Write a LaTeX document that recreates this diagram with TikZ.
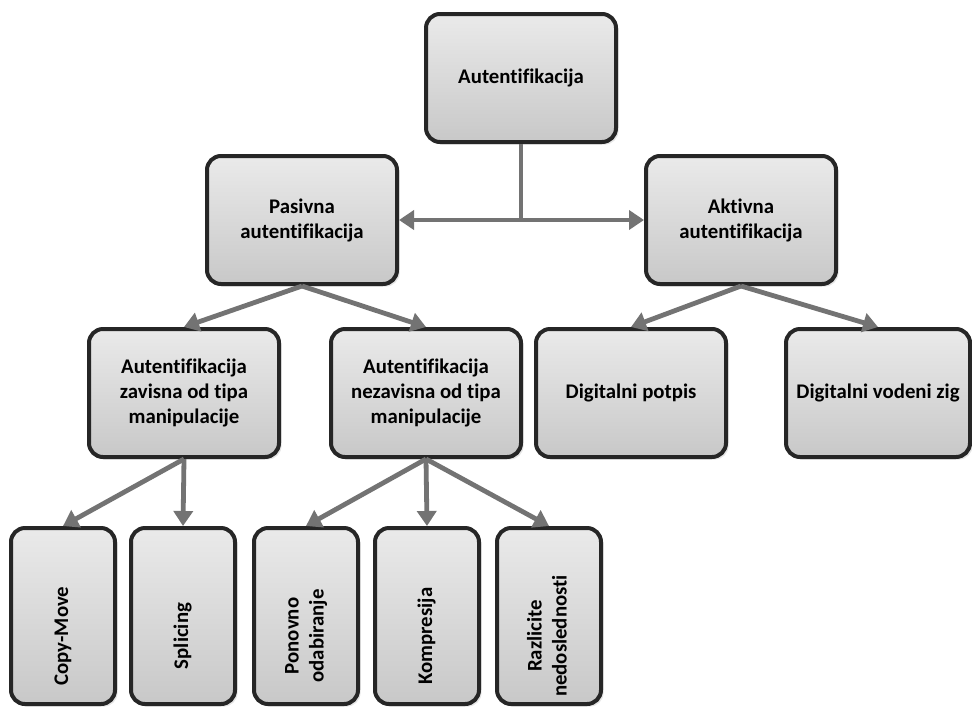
\documentclass[tikz,border=0pt]{standalone}
\usepackage{fontspec}
\setmainfont{Carlito}[Ligatures={CommonOff,RareOff}]
\usetikzlibrary{arrows.meta,shadows}

\definecolor{boxline}{HTML}{262626}
\definecolor{boxtop}{HTML}{EAEAEA}
\definecolor{boxbot}{HTML}{C8C8C8}
\definecolor{linkgray}{HTML}{737373}

% text of a rotated leaf, set a little towards the bottom of its box
\newcommand{\leaftext}[1]{\begin{tabular}{@{}c@{}}#1\end{tabular}\hspace*{20pt}}

\tikzset{
  box/.style={rectangle, rounded corners=7pt, draw=boxline, line width=2pt,
    top color=boxtop, bottom color=boxbot, minimum width=95pt, minimum height=64pt,
    align=center, font=\bfseries\fontsize{10.4}{12.5}\selectfont,
    drop shadow={shadow xshift=1.3pt, shadow yshift=-1.3pt, fill=black!20}},
  leaf/.style={box, rotate=90, minimum width=88pt, minimum height=52pt},
  link/.style={draw=linkgray, line width=2.4pt, -{Triangle[length=7.5pt,width=9.5pt]}},
}

\begin{document}
\begin{tikzpicture}[x=0.5pt, y=-0.5pt]
    \useasboundingbox (0,0) rectangle (972,707);

    \node[box] (top) at (521,78) {Autentifikacija};
    \node[box] (pas) at (302,220) {Pasivna\\autentifikacija};
    \node[box] (akt) at (741,220) {Aktivna\\autentifikacija};

    \node[box] (zav) at (184,393) {Autentifikacija\\zavisna od tipa\\manipulacije};
    \node[box] (nez) at (426,393) {Autentifikacija\\nezavisna od tipa\\manipulacije};
    \node[box] (pot) at (631,393) {Digitalni potpis};
    \node[box, minimum width=92pt] (zig) at (878,393) {Digitalni vodeni zig};

    \node[leaf] (cm) at (63,616) {\leaftext{Copy-Move}};
    \node[leaf] (spl) at (183,616) {\leaftext{Splicing}};
    \node[leaf] (pon) at (306,616) {\leaftext{Ponovno\\odabiranje}};
    \node[leaf] (kom) at (427,616) {\leaftext{Kompresija}};
    \node[leaf] (raz) at (549,616) {\leaftext{Razlicite\\nedoslednosti}};

    % top level split
    \coordinate (j) at (521,220);
    \draw[draw=linkgray, line width=2.4pt] (top.south) -- (j);
    \draw[link] (j) -- (pas.east);
    \draw[link] (j) -- (akt.west);

    \draw[link] (pas.south) -- (zav.north);
    \draw[link] (pas.south) -- (nez.north);
    \draw[link] (akt.south) -- (pot.north);
    \draw[link] (akt.south) -- (zig.north);

    % leaves (rotated, so east is up)
    \draw[link] (zav.south) -- (cm.east);
    \draw[link] (zav.south) -- (spl.east);
    \draw[link] (nez.south) -- (pon.east);
    \draw[link] (nez.south) -- (kom.east);
    \draw[link] (nez.south) -- (raz.east);
\end{tikzpicture}
\end{document}
